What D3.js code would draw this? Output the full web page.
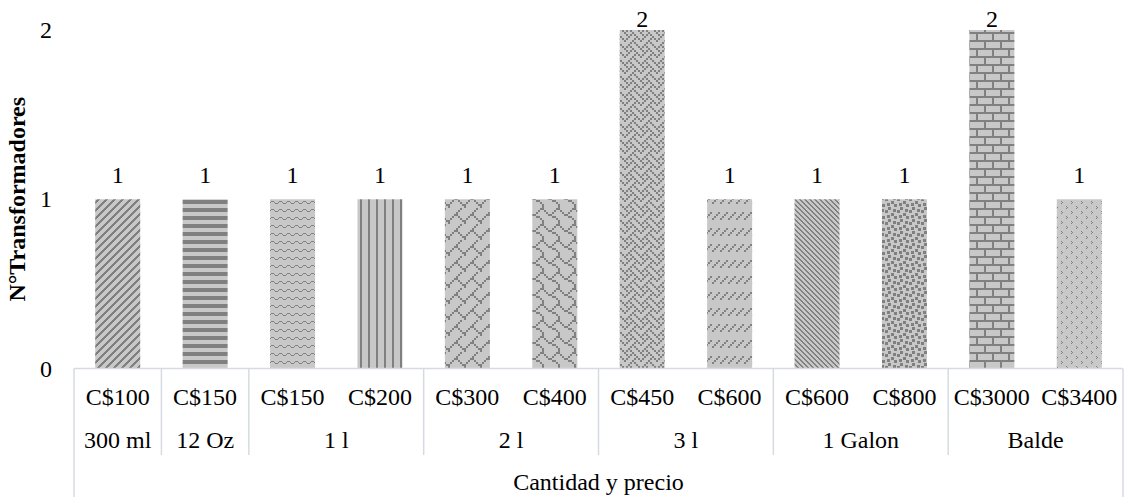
<!DOCTYPE html>
<html>
<head>
<meta charset="utf-8">
<script src="https://cdn.jsdelivr.net/npm/d3@7"></script>
<style>
  body { margin: 0; background: #fff; }
  svg text { font-family: "Liberation Serif", Tinos, "Times New Roman", "DejaVu Serif", serif; fill: #000; }
</style>
</head>
<body>
<div id="chart"></div>
<script>
// data
const prices = ["C$100", "C$150", "C$150", "C$200", "C$300", "C$400", "C$450", "C$600", "C$600", "C$800", "C$3000", "C$3400"];
const sizes = ["300 ml", "12 Oz", "1 l", "1 l", "2 l", "2 l", "3 l", "3 l", "1 Galon", "1 Galon", "Balde", "Balde"];
const counts = [1, 1, 1, 1, 1, 1, 2, 1, 1, 1, 2, 1];
const yTicks = [0, 1, 2];
const xTitle = "Cantidad y precio";
const yTitle = "N°Transformadores";

let width = 1127, height = 502,
    margin = ({ top: 30, right: 4, bottom: 133.5, left: 74 });

const bg = "#c8c8c8", fg = "#808080";
const serif = "'Liberation Serif', Tinos, 'Times New Roman', 'DejaVu Serif', serif";

// bitmap hatch patterns (x = dark pixel)
const patterns = [
  { cell: 1, rows: d3.range(8).map(y => d3.range(8).map(x => ((x + y) % 8) < 3 ? "x" : ".").join("")) },
  { cell: 1, rows: ["xxxxxxxx","xxxxxxxx","xxxxxxxx","xxxxxxxx","........","........","........","........"] },
  { cell: 1, rows: ["........","xx.....x","..x...x.","...xxx..","........","........","........","........"] },
  { cell: 1, rows: d3.range(8).map(() => "xx......") },
  { cell: 2, rows: ["......x.",".....x..","....x...","...xx...","..x..x..",".x....x.","x......x","x......."] },
  { cell: 2, rows: ["......xx","x....x..",".x..x...","..xx....","....xx..","......x.",".......x",".......x"] },
  { cell: 2, rows: ["x...x...",".x.x.x..","..x...x.",".x...x.x","x...x...","...x.x..","..x...x.",".x.x...x"] },
  { cell: 2, rows: ["........","........","...x...x","..x...x.",".x...x..","x...x...","........","........"] },
  { cell: 1, rows: d3.range(5).map(y => d3.range(5).map(x => (((x - y) % 5 + 5) % 5) < 2 ? "x" : ".").join("")) },
  { cell: 1.5, rows: ["x...xx.x","....xx..","xx......","xx.xx...","...xx.xx","......xx","..xx....","x.xx...x"] },
  { cell: 2, rows: ["xxxxxxxx","x.......","x.......","x.......","xxxxxxxx","....x...","....x...","....x..."] },
  { cell: 1, rows: ["..........",".x........","..x.......",".x........","..........","..........","......x...",".......x..","......x...",".........."] }
];

const svg = d3.select("#chart")
  .append("svg")
  .attr("width", width)
  .attr("height", height)
  .attr("font-family", serif);

const defs = svg.append("defs");
patterns.forEach((p, i) => {
  const w = p.rows[0].length * p.cell, h = p.rows.length * p.cell;
  const pat = defs.append("pattern")
    .attr("id", "pat" + i)
    .attr("patternUnits", "userSpaceOnUse")
    .attr("width", w).attr("height", h);
  pat.append("rect").attr("width", w).attr("height", h).attr("fill", bg);
  p.rows.forEach((r, y) => {
    r.split("").forEach((c, x) => {
      if (c === "x") pat.append("rect")
        .attr("x", x * p.cell).attr("y", y * p.cell)
        .attr("width", p.cell).attr("height", p.cell)
        .attr("fill", fg).attr("shape-rendering", "crispEdges");
    });
  });
});

const idx = d3.range(counts.length);

let x = d3.scaleBand()
  .domain(idx)
  .range([margin.left, width - margin.right])
  .paddingInner(0.485)
  .paddingOuter(0.2425);

let y = d3.scaleLinear()
  .domain([0, 2])
  .range([height - margin.bottom, margin.top]);

const step = x.step();
const x0 = margin.left, x1 = width - margin.right;
const base = y(0);
const lineCol = "#d6dbe1";

// bars
svg.append("g")
  .selectAll("rect")
  .data(idx)
  .join("rect")
  .attr("x", i => x(i))
  .attr("y", i => y(counts[i]))
  .attr("width", x.bandwidth())
  .attr("height", i => base - y(counts[i]))
  .attr("fill", i => `url(#pat${i})`);

// value labels
svg.append("g")
  .selectAll("text")
  .data(idx)
  .join("text")
  .attr("x", i => x(i) + x.bandwidth() / 2)
  .attr("y", i => Math.max(y(counts[i]) - 16, 27))
  .attr("text-anchor", "middle")
  .attr("font-size", 24)
  .text(i => counts[i]);

// y tick labels (no axis line)
svg.append("g")
  .selectAll("text")
  .data(yTicks)
  .join("text")
  .attr("x", 46)
  .attr("y", d => y(d) + 8)
  .attr("text-anchor", "middle")
  .attr("font-size", 24)
  .text(d => d);

svg.append("text")
  .attr("transform", `translate(25,${(margin.top + base) / 2}) rotate(-90)`)
  .attr("text-anchor", "middle")
  .attr("font-size", 24)
  .attr("font-weight", "bold")
  .text(yTitle);

// category table
const tbl = svg.append("g").attr("stroke", lineCol).attr("stroke-width", 1.5);
tbl.append("line").attr("x1", x0).attr("x2", x1).attr("y1", base).attr("y2", base);

const groups = [];
sizes.forEach((s, i) => {
  if (!groups.length || groups[groups.length - 1].name !== s) groups.push({ name: s, start: i, end: i });
  else groups[groups.length - 1].end = i;
});
const bounds = groups.map(g => g.start).concat([sizes.length]);
tbl.selectAll(".sep")
  .data(bounds)
  .join("line")
  .attr("x1", i => x0 + i * step)
  .attr("x2", i => x0 + i * step)
  .attr("y1", base)
  .attr("y2", i => (i === 0 || i === sizes.length) ? 497 : 455);

svg.append("g")
  .selectAll("text")
  .data(idx)
  .join("text")
  .attr("x", i => x(i) + x.bandwidth() / 2)
  .attr("y", 405)
  .attr("text-anchor", "middle")
  .attr("font-size", 24)
  .text(i => prices[i]);

svg.append("g")
  .selectAll("text")
  .data(groups)
  .join("text")
  .attr("x", g => x0 + (g.start + g.end + 1) / 2 * step)
  .attr("y", 448)
  .attr("text-anchor", "middle")
  .attr("font-size", 24)
  .text(g => g.name);

svg.append("text")
  .attr("x", (x0 + x1) / 2)
  .attr("y", 490)
  .attr("text-anchor", "middle")
  .attr("font-size", 24)
  .text(xTitle);
</script>
</body>
</html>
